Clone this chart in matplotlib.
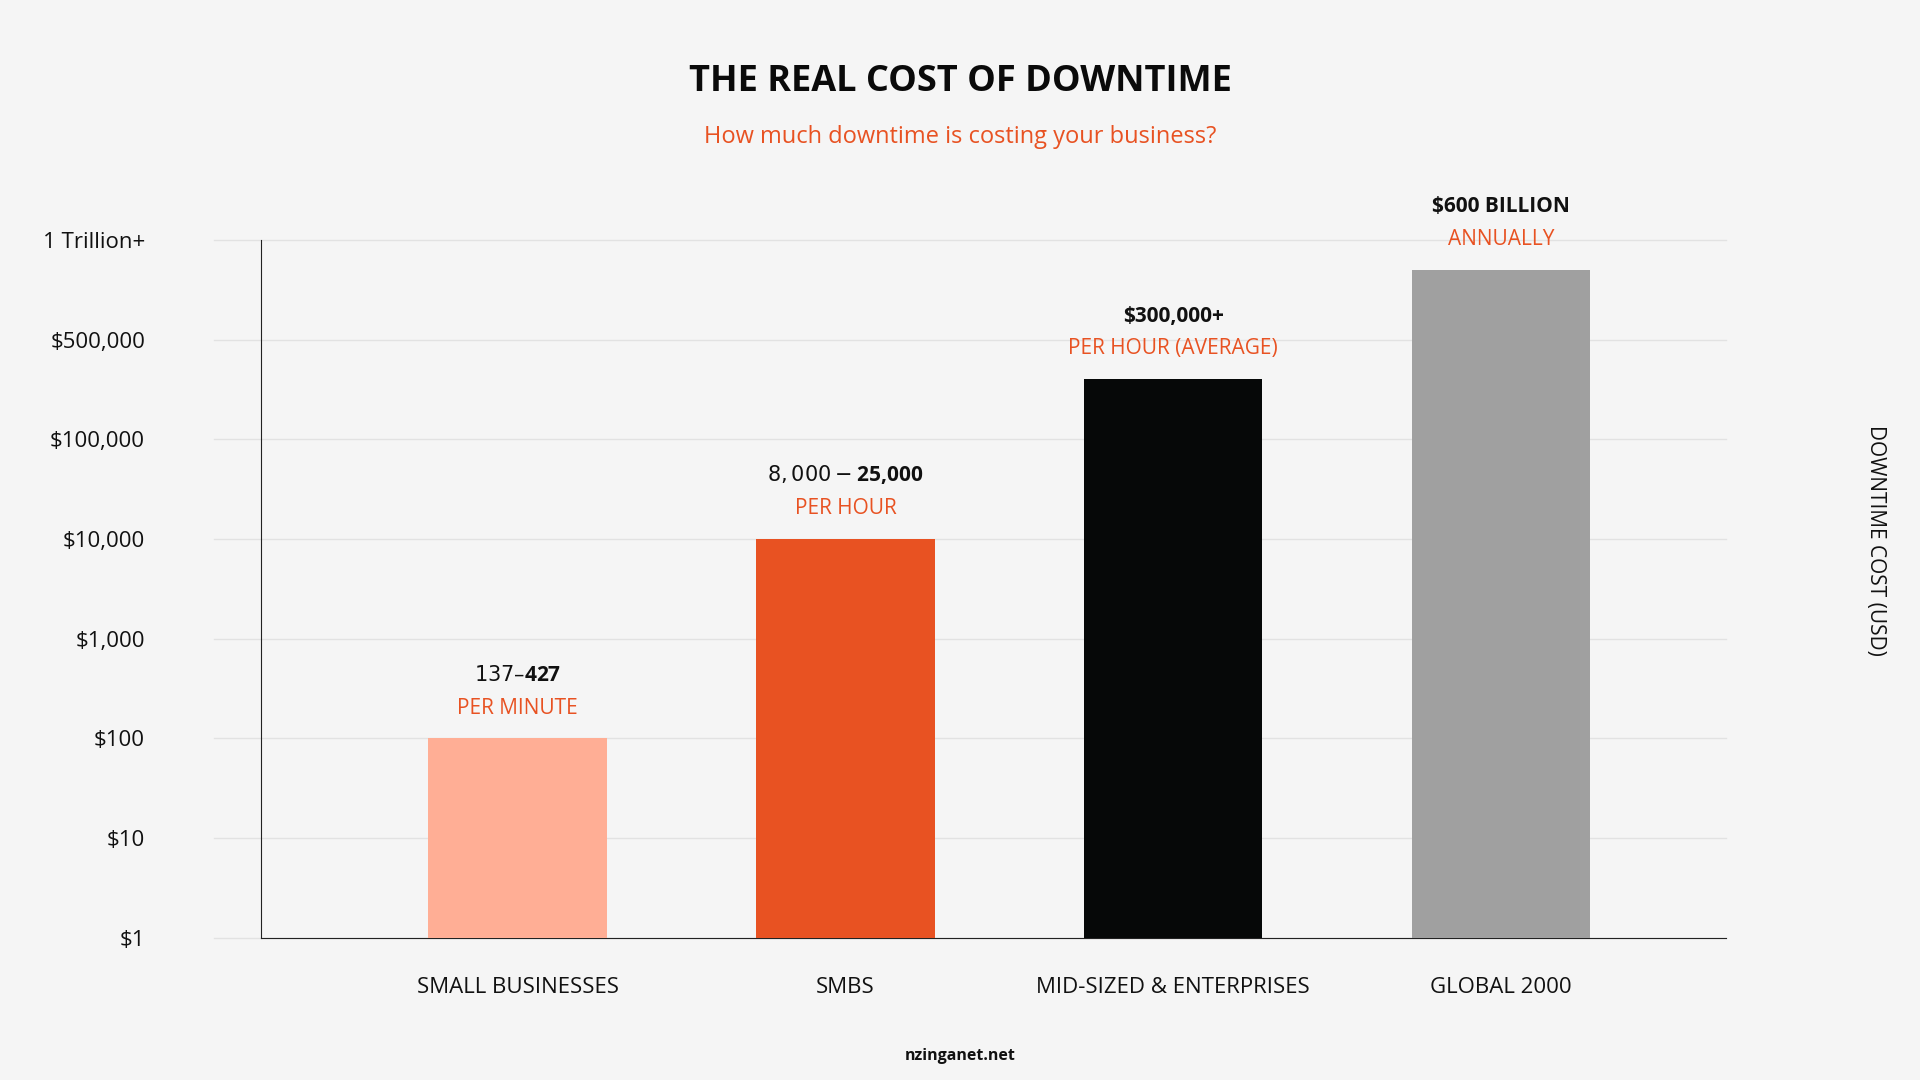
import matplotlib
matplotlib.use("Agg")
import matplotlib.pyplot as plt
import matplotlib.transforms as mtransforms

plt.rcParams['font.family'] = ['Open Sans', 'DejaVu Sans']

categories = ['SMALL BUSINESSES', 'SMBS', 'MID-SIZED & ENTERPRISES', 'GLOBAL 2000']
levels = [2.0, 4.0, 5.6, 6.7]   # position on the stepped log-like axis
values_txt = ['$137–$427', '$8,000 - $25,000', '$300,000+', '$600 BILLION']
units_txt = ['PER MINUTE', 'PER HOUR', 'PER HOUR (AVERAGE)', 'ANNUALLY']
colors = ['#ffae95', '#e85222', '#060808', '#a0a0a0']
ytick_labels = ['$1', '$10', '$100', '$1,000', '$10,000', '$100,000', '$500,000', '1 Trillion+']

bg = '#f5f5f5'
orange = '#e85222'

fig = plt.figure(figsize=(19.2, 10.8), dpi=100, facecolor=bg)
ax = fig.add_axes([0.1358, 0.1315, 0.899 - 0.1358, 0.778 - 0.1315], facecolor=bg)

x = range(len(categories))
ax.bar(x, levels, width=0.545, color=colors, zorder=3)
ax.set_xlim(-0.784, 3.687)
ax.set_ylim(0, 7)

# gridlines extending a bit to the left of the spine
for i in range(len(ytick_labels)):
    ax.plot([-0.032, 1], [i / 7, i / 7], transform=ax.transAxes, color='#e2e2e2',
            lw=1, clip_on=False, zorder=1)

for s in ['top', 'right']:
    ax.spines[s].set_visible(False)
ax.spines['left'].set_color('#222222')
ax.spines['bottom'].set_color('#222222')

ax.set_yticks(range(len(ytick_labels)))
ax.set_yticklabels(ytick_labels, fontsize=16, color='#111111')
ax.tick_params(axis='y', length=0, pad=75)
off = mtransforms.ScaledTranslation(0, 0.12, fig.dpi_scale_trans)
for lab in ax.get_yticklabels():
    lab.set_horizontalalignment('right')
    lab.set_transform(lab.get_transform() + off)
    lab.set_x(-0.005)
ax.tick_params(axis='y', pad=78)

ax.set_xticks(list(x))
ax.set_xticklabels(categories, fontsize=16, color='#111111')
ax.tick_params(axis='x', length=0, pad=28)

for i, (lv, v, u) in enumerate(zip(levels, values_txt, units_txt)):
    ax.text(i, lv + 0.2, u, ha='center', va='bottom', fontsize=15, color=orange)
    ax.text(i, lv + 0.53, v, ha='center', va='bottom', fontsize=15,
            fontweight='bold', color='#111111')

fig.text(0.5, 0.924, 'THE REAL COST OF DOWNTIME', ha='center', va='center',
         fontsize=26, fontweight='bold', color='#0a0a0a')
fig.text(0.5, 0.873, 'How much downtime is costing your business?', ha='center',
         va='center', fontsize=17, color=orange)
fig.text(0.977, 0.5, 'DOWNTIME COST (USD)', rotation=-90, ha='center', va='center',
         fontsize=15, color='#111111')
fig.text(0.5, 0.022, 'nzinganet.net', ha='center', va='center', fontsize=11.5,
         fontweight='bold', color='#111111')

fig.savefig('out.png', dpi=100, facecolor=bg)
